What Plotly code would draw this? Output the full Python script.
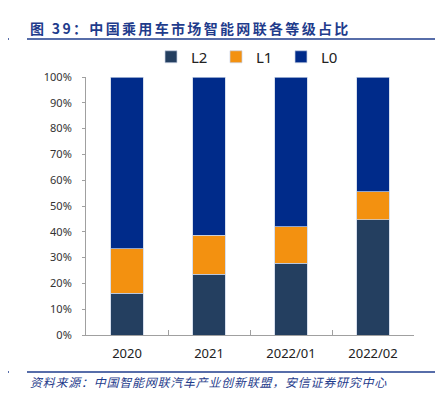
import plotly.graph_objects as go

categories = ["2020", "2021", "2022/01", "2022/02"]
l2 = [16.1, 23.5, 27.8, 44.7]
l1 = [17.3, 15.1, 14.1, 10.8]
l0 = [66.6, 61.4, 58.1, 44.5]
y_ticks = [0, 10, 20, 30, 40, 50, 60, 70, 80, 90, 100]
y_tick_labels = [f"{v}%" for v in y_ticks]

title = "图 39：中国乘用车市场智能网联各等级占比"
source = "资料来源：中国智能网联汽车产业创新联盟，安信证券研究中心"

def spaced(s, sep):
    return sep.join(list(s))

OFF = 8  # page body margin
W, H = 443 - OFF, 393 - OFF
L, R, T, B = 86 - OFF, 29, 77 - OFF, 58
pw, ph = W - L - R, H - T - B

def px(x):
    return (x - OFF - L) / pw

def py(y):
    return (H - B - (y - OFF)) / ph

fig = go.Figure()
line_color = "rgba(200,210,230,0.9)"
for name, vals, col in [("L2", l2, "#243F60"), ("L1", l1, "#F39110"), ("L0", l0, "#002B8A")]:
    fig.add_trace(go.Bar(name=name, x=categories, y=vals, marker=dict(color=col, line=dict(color=line_color, width=0.8)), width=0.4))

blue = "#1F3C8C"
shapes = []
for yy in (39, 372):
    shapes.append(dict(type="line", xref="paper", yref="paper", x0=px(OFF), x1=px(9), y0=py(yy), y1=py(yy), line=dict(color=blue, width=1.5)))
    shapes.append(dict(type="line", xref="paper", yref="paper", x0=px(27), x1=px(443), y0=py(yy), y1=py(yy), line=dict(color=blue, width=1.5)))

annotations = [
    dict(text="<b>" + spaced(title, "\u2006") + "</b>", xref="paper", yref="paper", x=px(28), y=py(28), xanchor="left", yanchor="middle", showarrow=False,
         font=dict(family="Noto Sans CJK SC", size=14, color=blue)),
    dict(text="<i>" + spaced(source, "\u200a") + "</i>", xref="paper", yref="paper", x=px(28), y=py(382), xanchor="left", yanchor="middle", showarrow=False,
         font=dict(family="Noto Sans CJK SC", size=12, color=blue)),
]

fig.update_layout(
    width=W, height=H,
    margin=dict(l=L, r=R, t=T, b=B),
    barmode="stack",
    plot_bgcolor="white", paper_bgcolor="white",
    font=dict(family="Noto Sans, Noto Sans CJK SC", color="#222222"),
    shapes=shapes, annotations=annotations,
    showlegend=True,
    legend=dict(orientation="h", x=px(151), y=py(57), xanchor="left", yanchor="middle", font=dict(size=15, color="#222222"),
                entrywidth=20, entrywidthmode="pixels", traceorder="normal", bgcolor="rgba(0,0,0,0)"),
    xaxis=dict(showline=True, linecolor="#A0A0A0", linewidth=1, ticks="inside", tickson="boundaries", ticklen=5, tickcolor="#A0A0A0",
               tickfont=dict(size=13, color="#222222"), ticklabelstandoff=6, fixedrange=True),
    yaxis=dict(range=[0, 100], tickvals=y_ticks, ticktext=y_tick_labels, showline=True, linecolor="#A0A0A0", linewidth=1, ticks="outside",
               ticklen=3, tickcolor="#A0A0A0", showgrid=False, zeroline=False, tickfont=dict(size=11, color="#333333"), ticklabelstandoff=8),
    bargap=0.6,
)

fig.write_html("out.html")
